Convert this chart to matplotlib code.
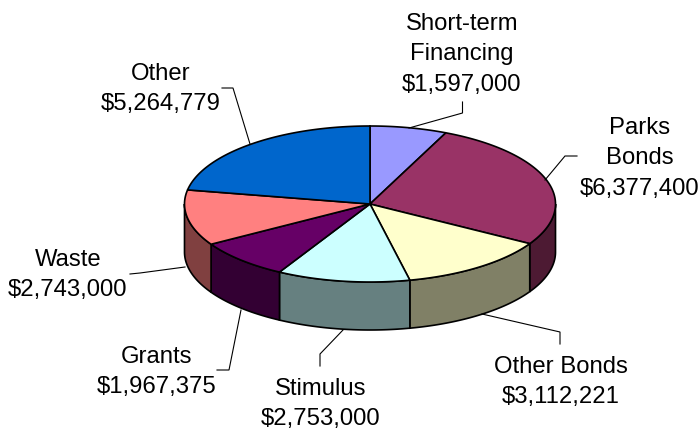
import numpy as np
import matplotlib
matplotlib.use('Agg')
from matplotlib import pyplot as plt
from matplotlib.patches import Polygon

plt.rcParams['font.family'] = ['Liberation Sans', 'DejaVu Sans']

labels = ['Short-term\nFinancing\n$1,597,000', 'Parks\nBonds\n$6,377,400', 'Other Bonds\n$3,112,221',
          'Stimulus\n$2,753,000', 'Grants\n$1,967,375', 'Waste\n$2,743,000', 'Other\n$5,264,779']
values = [1597000, 6377400, 3112221, 2753000, 1967375, 2743000, 5264779]
top_colors = ['#9999FF', '#993366', '#FFFFCC', '#CCFFFF', '#660066', '#FF8080', '#0066CC']
side_colors = ['#6B6BB3', '#4D1A33', '#808066', '#668080', '#330033', '#804040', '#003366']
label_xy = [(462, 54), (640, 158.5), (561, 382), (321, 404), (157, 372), (68, 275), (161, 89)]
# leader line: from label to pie edge
leaders = [[(462.5, 102), (462.5, 113), (409, 128)], [(577, 156), (565, 156), (545, 180)],
           [(560, 344), (560, 332), (482, 314)], [(320, 366), (320, 354), (343, 330)],
           [(217, 370), (229, 370), (241, 310)], [(130, 274), (140, 273), (185, 267)],
           [(222, 88), (233, 88), (250, 144)]]

cx, cy = 370, 204
rx, ry = 185.5, 78
depth = 48

fig = plt.figure(figsize=(6.99, 4.29), dpi=100)
ax = fig.add_axes([0, 0, 1, 1])
ax.set_xlim(0, 699)
ax.set_ylim(429, 0)
ax.axis('off')

edges = np.concatenate([[0], np.cumsum(values)]) / sum(values) * 2 * np.pi


def rim(a0, a1, n=80):
    t = np.linspace(a0, a1, n)
    return np.column_stack([cx + rx * np.sin(t), cy - ry * np.cos(t)])


# sides, only the front half (angles 90..270 deg) shows
for i in range(len(values)):
    a0, a1 = max(edges[i], np.pi / 2), min(edges[i + 1], 3 * np.pi / 2)
    if a1 <= a0:
        continue
    r = rim(a0, a1)
    pts = np.vstack([r, (r + [0, depth])[::-1]])
    ax.add_patch(Polygon(pts, closed=True, fc=side_colors[i], ec='black', lw=1.2))

for i in range(len(values)):
    pts = np.vstack([[cx, cy], rim(edges[i], edges[i + 1])])
    ax.add_patch(Polygon(pts, closed=True, fc=top_colors[i], ec='black', lw=1.2))

for lab, (x, y) in zip(labels, label_xy):
    ax.text(x, y, lab, ha='center', va='center', fontsize=17.2, color='black', linespacing=1.5)

for seg in leaders:
    seg = np.array(seg)
    ax.plot(seg[:, 0], seg[:, 1], color='black', lw=0.8, solid_joinstyle='miter')

fig.savefig('out.png', dpi=100)
